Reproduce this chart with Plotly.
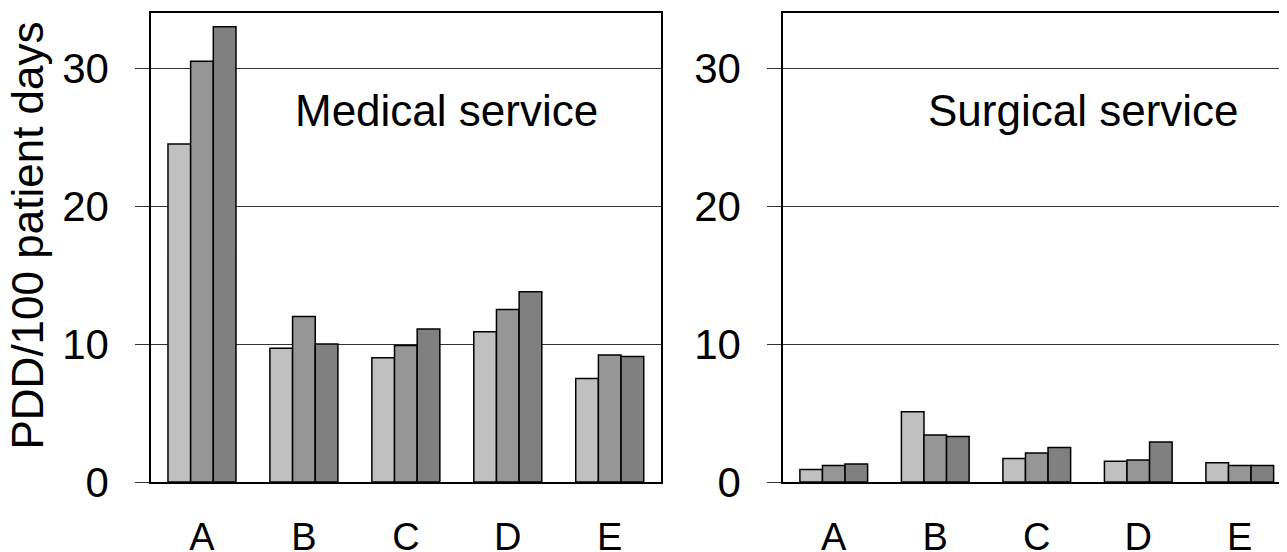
import plotly.graph_objects as go
from plotly.subplots import make_subplots

categories = ["A", "B", "C", "D", "E"]
medical_1 = [24.5, 9.7, 9.0, 10.9, 7.5]
medical_2 = [30.5, 12.0, 9.9, 12.5, 9.2]
medical_3 = [33.0, 10.0, 11.1, 13.8, 9.1]
surgical_1 = [0.9, 5.1, 1.7, 1.5, 1.4]
surgical_2 = [1.2, 3.4, 2.1, 1.6, 1.2]
surgical_3 = [1.3, 3.3, 2.5, 2.9, 1.2]
y_ticks = [0, 10, 20, 30]
panel_titles = ["Medical service", "Surgical service"]
y_title = "PDD/100 patient days"

colors = ["#c0c0c0", "#969696", "#808080"]
FONT = "Liberation Sans, Arial, sans-serif"

fig = make_subplots(rows=1, cols=2)
for col, series in ((1, [medical_1, medical_2, medical_3]), (2, [surgical_1, surgical_2, surgical_3])):
    for s, c in zip(series, colors):
        fig.add_trace(go.Bar(x=categories, y=s, marker=dict(color=c, line=dict(color="black", width=1.5)),
                             showlegend=False), row=1, col=col)

# page body adds ~8px offset; margins compensate
W, H = 1287, 552
ml, mr, mt, mb = 143, 0, 5, 78
pw = W - ml - mr
ph = H - mt - mb
d1 = (652.7 - ml) / pw
d2 = (775 - ml) / pw

fig.update_layout(
    width=W, height=H, margin=dict(l=ml, r=mr, t=mt, b=mb, autoexpand=False),
    paper_bgcolor="white", plot_bgcolor="white",
    barmode="group", bargap=0.333, bargroupgap=0,
    font=dict(family=FONT, color="black"),
)

xcommon = dict(showline=True, linecolor="black", linewidth=2, mirror=True, ticks="outside", ticklen=0,
               tickfont=dict(size=38), ticklabelstandoff=20, showgrid=False, automargin=False)
fig.update_xaxes(domain=[0, d1], range=[-0.5, 4.5], **xcommon, row=1, col=1)
fig.update_xaxes(domain=[d2, 1], range=[-0.5, 4.544], **xcommon, row=1, col=2)

ycommon = dict(range=[0, 34], tickvals=y_ticks, showgrid=True, gridcolor="#333333", gridwidth=1.2,
               showline=True, linecolor="black", linewidth=1.5, ticks="outside", ticklen=14,
               tickcolor="#333333", tickwidth=1.2, tickfont=dict(size=42), ticklabelstandoff=18,
               zeroline=False, automargin=False)
fig.update_yaxes(mirror=True, **ycommon, row=1, col=1)
fig.update_yaxes(mirror=False, **ycommon, row=1, col=2)

fig.add_annotation(x=(19 - ml) / pw, y=(474 - 227.5) / ph, xref="paper", yref="paper", text=y_title,
                   textangle=-90, showarrow=False, font=dict(size=44), xanchor="center", yanchor="middle")
fig.add_annotation(x=2.40, y=26.9, xref="x", yref="y", text=panel_titles[0], showarrow=False,
                   font=dict(size=44), xanchor="center", yanchor="middle")
fig.add_annotation(x=2.464, y=26.9, xref="x2", yref="y2", text=panel_titles[1], showarrow=False,
                   font=dict(size=44), xanchor="center", yanchor="middle")

fig.write_html("out.html")
